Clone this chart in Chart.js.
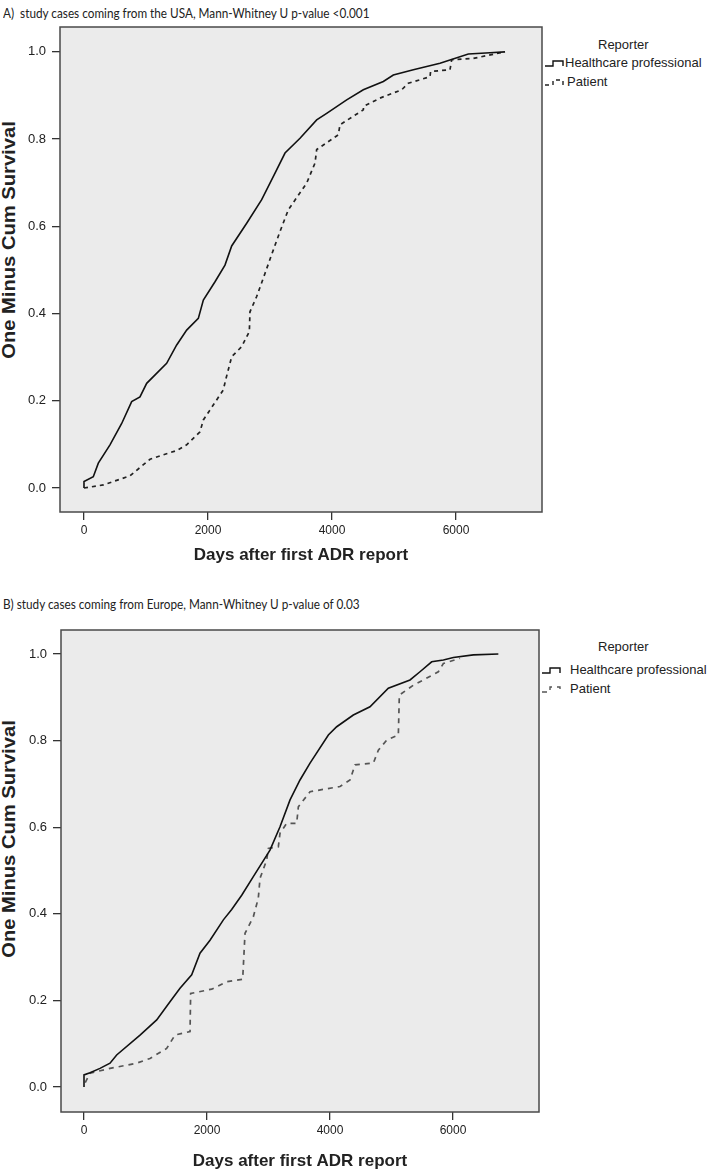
<!DOCTYPE html>
<html>
<head>
<meta charset="utf-8">
<script src="https://cdn.jsdelivr.net/npm/chart.js@4.4.1/dist/chart.umd.min.js"></script>
<style>
  body { margin:0; background:#fff; width:709px; height:1170px; position:relative; overflow:hidden;
         font-family:'Liberation Sans', Arial, sans-serif; color:#222; }
  canvas { position:absolute; left:0; }
  .ttl { position:absolute; left:3px; font-family:Lato, 'Open Sans', sans-serif; font-size:14px; color:#222; white-space:nowrap;
         transform:scaleX(0.84); transform-origin:0 50%; }
  .ytl { position:absolute; font-weight:bold; font-size:18px; color:#222; white-space:nowrap;
         transform:translate(-50%,-50%) rotate(-90deg) scaleX(1.12); }
  .lg  { position:absolute; font-size:13px; color:#222; white-space:nowrap; }
</style>
</head>
<body>

<div class="ttl" style="top:4px">A)&nbsp; study cases coming from the USA, Mann-Whitney U p-value &lt;0.001</div>
<div class="ytl" style="left:9px; top:240px">One Minus Cum Survival</div>
<div class="lg" style="left:598px; top:37px">Reporter</div>
<div class="lg" style="left:565px; top:55px">Healthcare professional</div>
<div class="lg" style="left:567px; top:74px">Patient</div>
<canvas id="chartA" width="709" height="570" style="top:0"></canvas>

<div class="ttl" style="top:595px">B) study cases coming from Europe, Mann-Whitney U p-value of 0.03</div>
<div class="ytl" style="left:9px; top:839px">One Minus Cum Survival</div>
<div class="lg" style="left:598px; top:639px">Reporter</div>
<div class="lg" style="left:570px; top:662px">Healthcare professional</div>
<div class="lg" style="left:570px; top:681px">Patient</div>
<canvas id="chartB" width="709" height="590" style="top:580px"></canvas>

<script>
/* ── data: days after first ADR report / one minus cum survival ── */
var xTicks = [0, 2000, 4000, 6000];
var yTicks = [0, 0.2, 0.4, 0.6, 0.8, 1.0];
var seriesNames = ['Healthcare professional', 'Patient'];

// A) USA
var usaHcpDays = [0,0,150,231,419,608,769,903,1011,1333,1495,1656,1844,1925,2113,2274,2382,2624,2866,3081,3242,3484,3753,3914,4237,4505,4828,4989,5312,5742,6199,6548,6790];
var usaHcpSurv = [0,0.015,0.026,0.057,0.099,0.148,0.198,0.209,0.24,0.286,0.328,0.362,0.389,0.431,0.473,0.511,0.555,0.607,0.661,0.722,0.768,0.802,0.844,0.859,0.89,0.913,0.932,0.947,0.959,0.974,0.995,0.998,1.0];
var usaPatDays = [0,312,742,1065,1495,1656,1871,1925,2247,2285,2382,2543,2667,2677,2785,2919,3054,3161,3296,3591,3726,3753,4102,4129,4505,4510,4774,5124,5231,5581,5590,5903,5930,6280,6790];
var usaPatSurv = [0,0.007,0.028,0.066,0.086,0.099,0.129,0.156,0.225,0.248,0.301,0.324,0.359,0.404,0.439,0.492,0.546,0.588,0.638,0.699,0.745,0.776,0.81,0.833,0.867,0.875,0.894,0.913,0.928,0.943,0.955,0.959,0.982,0.985,1.0];

// B) Europe
var eurHcpDays = [0,0,98,260,423,531,911,1182,1398,1561,1751,1886,2049,2266,2401,2564,2753,3024,3187,3350,3512,3675,3973,4109,4379,4650,4948,5301,5463,5653,5843,6005,6331,6737];
var eurHcpSurv = [0,0.028,0.033,0.043,0.055,0.074,0.12,0.155,0.197,0.228,0.259,0.309,0.339,0.386,0.41,0.443,0.486,0.547,0.601,0.663,0.709,0.748,0.813,0.832,0.859,0.878,0.921,0.94,0.959,0.982,0.986,0.992,0.998,1.0];
var eurPatDays = [20,98,423,856,1073,1344,1480,1724,1734,2076,2320,2580,2618,2753,2834,2862,2970,2997,3160,3187,3295,3458,3485,3675,4163,4325,4407,4705,4786,4922,5111,5127,5355,5517,5761,5843,6114];
var eurPatSurv = [0.01,0.032,0.043,0.055,0.066,0.089,0.12,0.128,0.216,0.226,0.243,0.249,0.355,0.393,0.436,0.482,0.524,0.551,0.555,0.586,0.609,0.609,0.647,0.682,0.694,0.709,0.744,0.748,0.778,0.801,0.813,0.905,0.928,0.94,0.959,0.978,0.99];

/* ─────────────────────────────────────────── */

Chart.defaults.font.family = "'Liberation Sans', Arial, sans-serif";
Chart.defaults.color = '#222';

function pts(days, vals){
  return days.map(function(d, i){ return { x: d, y: vals[i] }; });
}

// grey plot panel + frame, plus the little step glyphs of the legend
var spssFrame = {
  id: 'spssFrame',
  beforeDraw: function(chart){
    var a = chart.chartArea, ctx = chart.ctx;
    ctx.save();
    ctx.fillStyle = '#ebebeb';
    ctx.fillRect(a.left, a.top, a.right - a.left, a.bottom - a.top);
    ctx.restore();
  },
  afterDraw: function(chart, args, opts){
    var a = chart.chartArea, ctx = chart.ctx;
    ctx.save();
    ctx.strokeStyle = '#4a4a4a';
    ctx.lineWidth = 1.5;
    ctx.strokeRect(a.left, a.top, a.right - a.left, a.bottom - a.top);
    // legend glyphs
    var x0 = a.right + 3, g = opts.glyphs || [];
    g.forEach(function(gl, i){
      var ds = chart.data.datasets[i];
      ctx.strokeStyle = ds.borderColor;
      ctx.lineWidth = 1.4;
      ctx.setLineDash(ds.borderDash || []);
      ctx.beginPath();
      ctx.moveTo(x0, gl + 4);
      ctx.lineTo(x0 + 8, gl + 4);
      ctx.lineTo(x0 + 8, gl - 1);
      ctx.lineTo(x0 + 18, gl - 1);
      ctx.lineTo(x0 + 18, gl + 4);
      ctx.stroke();
    });
    ctx.restore();
  }
};

function makeChart(id, hcp, pat, o){
  return new Chart(document.getElementById(id), {
    type: 'line',
    data: {
      datasets: [
        { label: seriesNames[0], data: hcp, borderColor: '#111', borderWidth: 1.6, pointRadius: 0, tension: 0, fill: false },
        { label: seriesNames[1], data: pat, borderColor: o.patColor, borderWidth: 1.7, borderDash: o.dash, pointRadius: 0, tension: 0, fill: false }
      ]
    },
    options: {
      responsive: false, animation: false, devicePixelRatio: 1,
      layout: { padding: { left: 0, top: o.padTop, right: o.padRight, bottom: 0 } },
      plugins: { legend: { display: false }, tooltip: { enabled: false }, spssFrame: { glyphs: o.glyphs } },
      scales: {
        x: {
          type: 'linear', min: o.xMin, max: o.xMax,
          afterBuildTicks: function(s){ s.ticks = xTicks.map(function(v){ return { value: v }; }); },
          afterFit: function(s){ s.height = o.xAxisH; },
          grid: { drawOnChartArea: false, drawTicks: true, tickLength: 8, tickColor: '#333', lineWidth: 1.3 },
          border: { display: false },
          ticks: { font: { size: 12 }, color: '#222', padding: 3, maxRotation: 0, callback: function(v){ return String(v); } },
          title: { display: true, text: 'Days after first ADR report', font: { size: 17, weight: 'bold', lineHeight: 1 }, color: '#222', padding: { top: 0, bottom: o.xTitlePad } }
        },
        y: {
          type: 'linear', min: o.yMin, max: o.yMax,
          afterBuildTicks: function(s){ s.ticks = yTicks.map(function(v){ return { value: v }; }); },
          afterFit: function(s){ s.width = o.yAxisW; },
          grid: { drawOnChartArea: false, drawTicks: true, tickLength: 8, tickColor: '#333', lineWidth: 1.3 },
          border: { display: false },
          ticks: { font: { size: 13 }, color: '#222', padding: 6, callback: function(v){ return v.toFixed(1); } }
        }
      }
    },
    plugins: [spssFrame]
  });
}

makeChart('chartA', pts(usaHcpDays, usaHcpSurv), pts(usaPatDays, usaPatSurv), {
  xMin: -387, xMax: 7387, yMin: -0.055, yMax: 1.057,
  padTop: 27, padRight: 167, xAxisH: 58, yAxisW: 60, xTitlePad: 6,
  patColor: '#222', dash: [4, 4], glyphs: [62, 81]
});

makeChart('chartB', pts(eurHcpDays, eurHcpSurv), pts(eurPatDays, eurPatSurv), {
  xMin: -374, xMax: 7398, yMin: -0.0577, yMax: 1.0554,
  padTop: 50, padRight: 170, xAxisH: 58, yAxisW: 61, xTitlePad: 0,
  patColor: '#555', dash: [5, 5], glyphs: [89, 108]
});
</script>
</body>
</html>
